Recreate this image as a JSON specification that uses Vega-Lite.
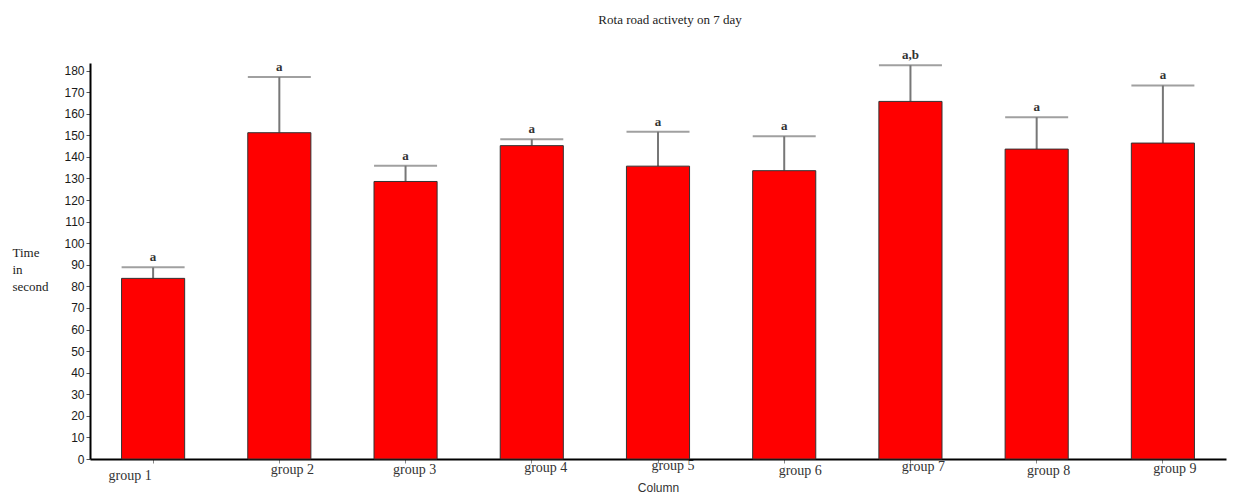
{
  "$schema": "https://vega.github.io/schema/vega-lite/v6.json",
  "width": 1136,
  "height": 396,
  "autosize": "none",
  "padding": {"left": 90, "top": 63, "right": 17, "bottom": 34},
  "background": "white",
  "title": {
    "text": "Rota road activety on 7 day",
    "font": "Liberation Serif",
    "fontSize": 13,
    "fontWeight": "normal",
    "color": "#222",
    "anchor": "middle",
    "dx": 12,
    "offset": 22
  },
  "config": {
    "view": {"stroke": null},
    "axisY": {
      "titleAngle": 0,
      "titleFont": "Liberation Serif",
      "titleFontSize": 13,
      "titleFontWeight": "normal",
      "titleColor": "#222",
      "titleAlign": "left",
      "titleBaseline": "top",
      "titleX": -78,
      "titleY": 183,
      "titleLineHeight": 17,
      "labelOverlap": false,
      "labelFlush": false,
      "labelFont": "Liberation Sans",
      "labelFontSize": 12,
      "labelColor": "#1a1a1a",
      "labelPadding": 2,
      "tickSize": 4,
      "tickColor": "#555",
      "domainColor": "#000",
      "domainWidth": 2,
      "grid": false
    }
  },
  "data": {
    "values": [
      {"group": "group 1", "mean": 83.7, "upper": 88.8, "letter": "a"},
      {"group": "group 2", "mean": 151.2, "upper": 177.0, "letter": "a"},
      {"group": "group 3", "mean": 128.6, "upper": 135.9, "letter": "a"},
      {"group": "group 4", "mean": 145.2, "upper": 148.2, "letter": "a"},
      {"group": "group 5", "mean": 135.7, "upper": 151.7, "letter": "a"},
      {"group": "group 6", "mean": 133.6, "upper": 149.6, "letter": "a"},
      {"group": "group 7", "mean": 165.7, "upper": 182.5, "letter": "a,b"},
      {"group": "group 8", "mean": 143.6, "upper": 158.4, "letter": "a"},
      {"group": "group 9", "mean": 146.4, "upper": 173.1, "letter": "a"}
    ]
  },
  "encoding": {
    "x": {
      "field": "group",
      "type": "nominal",
      "sort": null,
      "scale": {"paddingInner": 0.5, "paddingOuter": 0.25},
      "axis": {
        "title": "Column",
        "titleFont": "Liberation Sans",
        "titleFontSize": 12,
        "titleFontWeight": "normal",
        "titleColor": "#333",
        "titleBaseline": "alphabetic",
        "titleY": 32,
        "labelAngle": 0,
        "labelFont": "Liberation Serif",
        "labelFontSize": 14,
        "labelColor": "#333",
        "labelBaseline": "alphabetic",
        "labelOverlap": false,
        "labelPadding": {
          "condition": [
            {"test": "datum.value === 'group 1'", "value": 16},
            {"test": "datum.value === 'group 4'", "value": 8},
            {"test": "datum.value === 'group 5'", "value": 6},
            {"test": "datum.value === 'group 6'", "value": 11},
            {"test": "datum.value === 'group 7'", "value": 7},
            {"test": "datum.value === 'group 8'", "value": 11},
            {"test": "datum.value === 'group 9'", "value": 9}
          ],
          "value": 10
        },
        "labelOffset": {
          "condition": [
            {"test": "datum.value === 'group 1'", "value": -23},
            {"test": "datum.value === 'group 3'", "value": 9},
            {"test": "datum.value === 'group 4'", "value": 14},
            {"test": "datum.value === 'group 5'", "value": 15},
            {"test": "datum.value === 'group 6'", "value": 16},
            {"test": "datum.value === 'group 8'", "value": 12},
            {"test": "datum.value === 'group 9'", "value": 12}
          ],
          "value": 13
        },
        "tickSize": 4,
        "tickColor": "#888",
        "domainColor": "#000",
        "domainWidth": 2,
        "grid": false
      }
    },
    "y": {
      "field": "mean",
      "type": "quantitative",
      "scale": {"domain": [0, 183.5], "nice": false, "zero": true},
      "axis": {
        "title": ["Time", "in", "second"],
        "values": [0, 10, 20, 30, 40, 50, 60, 70, 80, 90, 100, 110, 120, 130, 140, 150, 160, 170, 180],
        "tickCount": 19
      }
    }
  },
  "layer": [
    {
      "mark": {"type": "rule", "color": "#777", "strokeWidth": 2},
      "encoding": {"y2": {"field": "upper"}}
    },
    {
      "mark": {"type": "bar", "color": "#ff0000", "stroke": "#333", "strokeWidth": 1}
    },
    {
      "mark": {"type": "tick", "color": "#777", "thickness": 2, "size": 63},
      "encoding": {
        "y": {
          "field": "upper",
          "type": "quantitative",
          "axis": {
            "title": ["Time", "in", "second"],
            "values": [0, 10, 20, 30, 40, 50, 60, 70, 80, 90, 100, 110, 120, 130, 140, 150, 160, 170, 180],
            "tickCount": 19
          }
        }
      }
    },
    {
      "mark": {
        "type": "text",
        "font": "Liberation Serif",
        "fontSize": 13,
        "fontWeight": "bold",
        "color": "#333",
        "baseline": "alphabetic",
        "dy": -6
      },
      "encoding": {
        "y": {
          "field": "upper",
          "type": "quantitative",
          "axis": {
            "title": ["Time", "in", "second"],
            "values": [0, 10, 20, 30, 40, 50, 60, 70, 80, 90, 100, 110, 120, 130, 140, 150, 160, 170, 180],
            "tickCount": 19
          }
        },
        "text": {"field": "letter"}
      }
    }
  ]
}
